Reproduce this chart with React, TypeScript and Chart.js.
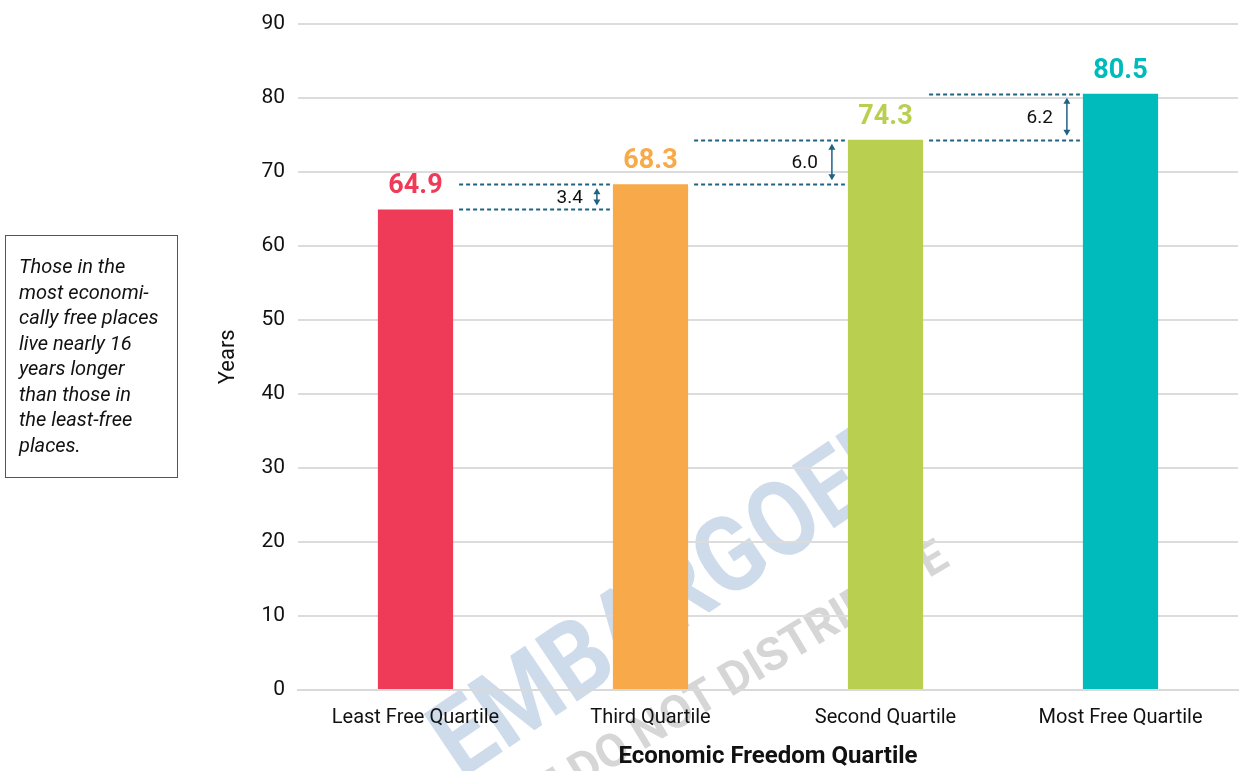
import React, { useEffect, useRef } from "react";
import { Chart, registerables } from "chart.js";

Chart.register(...registerables);

const categories = ["Least Free Quartile", "Third Quartile", "Second Quartile", "Most Free Quartile"];
const lifeExpectancy = [64.9, 68.3, 74.3, 80.5];
const barColors = ["#ef3b57", "#f8aa4a", "#b9cf50", "#00bbbb"];
const yMin = 0;
const yMax = 90;
const yStep = 10;
const noteLines = [
  "Those in the",
  "most economi-",
  "cally free places",
  "live nearly 16",
  "years longer",
  "than those in",
  "the least-free",
  "places.",
];

const FONT = "Roboto, 'Noto Sans', sans-serif";
const GAP_COLOR = "#1f6282";

const watermarkPlugin = {
  id: "watermark",
  beforeDraw(chart: any) {
    const ctx = chart.ctx;
    ctx.save();
    ctx.textAlign = "center";
    ctx.textBaseline = "middle";
    ctx.save();
    ctx.translate(677, 602);
    ctx.rotate((-34 * Math.PI) / 180);
    ctx.scale(0.88, 1);
    ctx.font = `bold 106px ${FONT}`;
    ctx.fillStyle = "#cddbeb";
    ctx.fillText("EMBARGOED", 0, 0);
    ctx.restore();
    ctx.save();
    ctx.translate(684, 712);
    ctx.rotate((-31 * Math.PI) / 180);
    ctx.font = `bold 46px ${FONT}`;
    ctx.fillStyle = "#d6d6d6";
    ctx.fillText("PLEASE DO NOT DISTRIBUTE", 0, 0);
    ctx.restore();
    ctx.restore();
  },
};

const annotationPlugin = {
  id: "gapAnnotations",
  afterDatasetsDraw(chart: any) {
    const ctx = chart.ctx;
    const meta = chart.getDatasetMeta(0);
    const yScale = chart.scales.y;
    ctx.save();
    // value labels
    meta.data.forEach((bar: any, i: number) => {
      ctx.font = `bold 27px ${FONT}`;
      ctx.fillStyle = barColors[i];
      ctx.textAlign = "center";
      ctx.textBaseline = "alphabetic";
      ctx.fillText(lifeExpectancy[i].toFixed(1), bar.x, bar.y - 16);
    });
    // gap annotations
    for (let i = 0; i < lifeExpectancy.length - 1; i++) {
      const a = meta.data[i];
      const b = meta.data[i + 1];
      const x0 = a.x + a.width / 2 + 6;
      const x1 = b.x - b.width / 2 - 3;
      const yLow = yScale.getPixelForValue(lifeExpectancy[i]);
      const yHigh = yScale.getPixelForValue(lifeExpectancy[i + 1]);
      ctx.strokeStyle = GAP_COLOR;
      ctx.lineWidth = 2;
      ctx.setLineDash([4, 3]);
      ctx.beginPath();
      ctx.moveTo(x0, Math.round(yLow) + 0.5);
      ctx.lineTo(x1, Math.round(yLow) + 0.5);
      ctx.moveTo(x0, Math.round(yHigh) + 0.5);
      ctx.lineTo(x1, Math.round(yHigh) + 0.5);
      ctx.stroke();
      ctx.setLineDash([]);
      const ax = b.x - b.width / 2 - 16;
      const top = yHigh + 4;
      const bot = yLow - 4;
      ctx.lineWidth = 1.5;
      ctx.beginPath();
      ctx.moveTo(ax, top + 2);
      ctx.lineTo(ax, bot - 2);
      ctx.stroke();
      ctx.fillStyle = GAP_COLOR;
      ctx.beginPath();
      ctx.moveTo(ax, top);
      ctx.lineTo(ax - 3.5, top + 6);
      ctx.lineTo(ax + 3.5, top + 6);
      ctx.closePath();
      ctx.fill();
      ctx.beginPath();
      ctx.moveTo(ax, bot);
      ctx.lineTo(ax - 3.5, bot - 6);
      ctx.lineTo(ax + 3.5, bot - 6);
      ctx.closePath();
      ctx.fill();
      const diff = (lifeExpectancy[i + 1] - lifeExpectancy[i]).toFixed(1);
      ctx.font = `19px ${FONT}`;
      ctx.fillStyle = "#111";
      ctx.textAlign = "right";
      ctx.textBaseline = "middle";
      ctx.fillText(diff, ax - 14, (yLow + yHigh) / 2 + 1);
    }
    ctx.restore();
  },
};

export default function App() {
  const canvasRef = useRef<HTMLCanvasElement | null>(null);

  useEffect(() => {
    document.body.style.margin = "0";
    const canvas = canvasRef.current;
    if (!canvas) return;
    const chart = new Chart(canvas, {
      type: "bar",
      data: {
        labels: categories,
        datasets: [
          {
            data: lifeExpectancy,
            backgroundColor: barColors,
            borderWidth: 0,
            barPercentage: 0.32,
            categoryPercentage: 1,
          },
        ],
      },
      options: {
        animation: false,
        responsive: false,
        devicePixelRatio: 1,
        layout: { padding: { left: 205, right: 5, top: 22, bottom: 0 } },
        plugins: {
          legend: { display: false },
          tooltip: { enabled: false },
        },
        scales: {
          x: {
            afterFit(scale: any) {
              scale.height = 81;
            },
            grid: { display: false, drawTicks: false },
            border: { display: true, color: "#d9d9d9", width: 2 },
            ticks: {
              color: "#111",
              padding: 16,
              font: { family: FONT, size: 20 },
            },
            title: {
              display: true,
              text: "Economic Freedom Quartile",
              color: "#111",
              font: { family: FONT, size: 24, weight: "bold" },
              padding: { top: 0, bottom: 0 },
            },
          },
          y: {
            min: yMin,
            max: yMax,
            afterFit(scale: any) {
              scale.width = 93;
            },
            grid: { color: "#dcdcdc", lineWidth: 2, drawTicks: false },
            border: { display: false },
            ticks: {
              stepSize: yStep,
              color: "#111",
              padding: 13,
              font: { family: FONT, size: 21, lineHeight: 1 },
            },
            title: {
              display: true,
              text: "Years",
              color: "#111",
              font: { family: FONT, size: 22 },
              padding: { top: 10, bottom: 0 },
            },
          },
        },
      },
      plugins: [watermarkPlugin, annotationPlugin],
    });
    return () => chart.destroy();
  }, []);

  return (
    <div style={{ position: "relative", width: 1243, height: 771, background: "#fff" }}>
      <canvas ref={canvasRef} width={1243} height={771} style={{ position: "absolute", left: 0, top: 0 }} />
      <div
        style={{
          position: "absolute",
          left: 5,
          top: 235,
          width: 173,
          height: 243,
          border: "1px solid #555",
          paddingLeft: 13,
          paddingTop: 18,
          boxSizing: "border-box",
          fontFamily: FONT,
          fontStyle: "italic",
          fontSize: 20,
          lineHeight: "25.5px",
          color: "#111",
        }}
      >
        {noteLines.map((l, i) => (
          <div key={i} style={{ whiteSpace: "nowrap" }}>{l}</div>
        ))}
      </div>
    </div>
  );
}
